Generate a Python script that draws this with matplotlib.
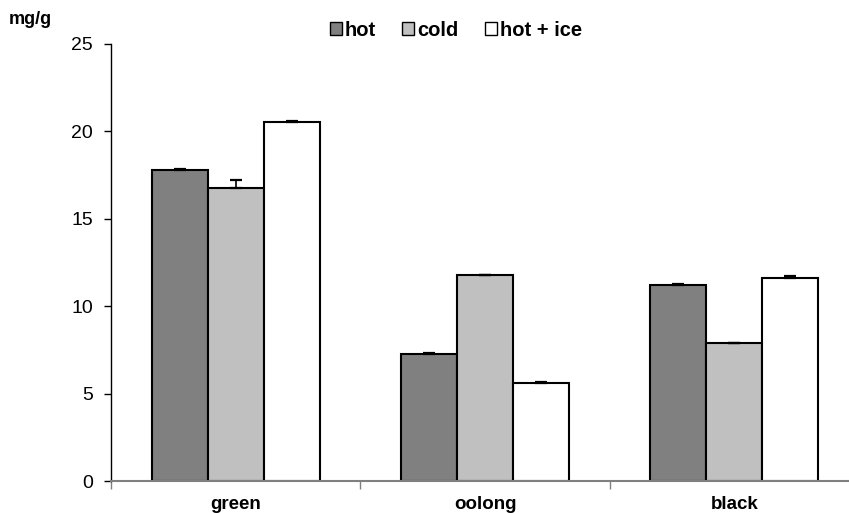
import numpy as np
import matplotlib.pyplot as plt
from matplotlib.patches import Patch

plt.rcParams['font.family'] = ['Liberation Sans', 'DejaVu Sans']

# datos
teas = ["green", "oolong", "black"]
series = ["hot", "cold", "hot + ice"]
hot = [17.8, 7.27, 11.22]
cold = [16.78, 11.76, 7.87]
ice = [20.52, 5.63, 11.64]
hot_err = [0.05, 0.06, 0.05]
cold_err = [0.42, 0.05, 0.04]
ice_err = [0.05, 0.04, 0.06]

colores = ["#808080", "#c0c0c0", "#ffffff"]

fig = plt.figure(figsize=(8.49, 5.13), dpi=100)
# el eje x se sale por la derecha como en el original
ax = fig.add_axes([111 / 849, 1 - 481 / 513, 748 / 849, 437 / 513])

x = np.arange(len(teas))
w = 0.225
for i, (vals, errs) in enumerate([(hot, hot_err), (cold, cold_err), (ice, ice_err)]):
    # solo la barra de error hacia arriba, como en excel
    ax.bar(x + (i - 1) * w, vals, w, color=colores[i], edgecolor="black", linewidth=1.5,
           yerr=[np.zeros(len(errs)), errs],
           error_kw=dict(ecolor="black", elinewidth=1.2, capsize=4, capthick=1.6, zorder=3),
           label=series[i], zorder=2)

ax.set_xlim(-0.5, 2.5)
ax.set_ylim(0, 25)
ax.set_yticks([0, 5, 10, 15, 20, 25])
ax.tick_params(axis="y", direction="out", length=5, labelsize=14, width=1, pad=8)
ax.set_xticks([-0.5, 0.5, 1.5, 2.5])
ax.set_xticklabels([])
ax.tick_params(axis="x", direction="out", length=6, color="#808080", width=1)
ax.set_xticks(x, minor=True)
ax.set_xticklabels(teas, minor=True, fontsize=13.5, fontweight="bold")
ax.tick_params(axis="x", which="minor", length=0, pad=11)

ax.spines["top"].set_visible(False)
ax.spines["right"].set_visible(False)
ax.spines["bottom"].set_color("#808080")
ax.spines["bottom"].set_linewidth(1.5)
ax.spines["left"].set_linewidth(1)

fig.text(9 / 849, 1 - 20 / 513, "mg/g", fontsize=13, fontweight="bold", va="center")

handles = [Patch(facecolor=c, edgecolor="black", linewidth=1) for c in colores]
fig.legend(handles, series, loc="center", bbox_to_anchor=(456 / 849, 1 - 30 / 513), ncol=3,
           frameon=False, prop=dict(size=14.5, weight="bold"), handlelength=0.6, handleheight=0.6,
           handletextpad=0.15, columnspacing=1.3)

fig.savefig("out.png", dpi=100)
